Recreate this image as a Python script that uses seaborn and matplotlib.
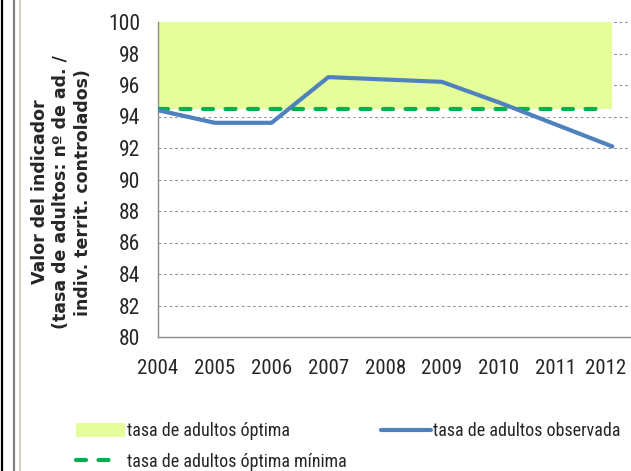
#!/usr/bin/env python3
"""Tasa de adultos observada vs optima"""

import pandas as pd
import matplotlib
matplotlib.use("Agg")
import matplotlib.pyplot as plt
import matplotlib.transforms as mtransforms
from matplotlib import font_manager
from matplotlib.lines import Line2D
from matplotlib.patches import Patch
import seaborn as sns

# Data
years = [2004, 2005, 2006, 2007, 2008, 2009, 2010, 2011, 2012]
observed = [94.4, 93.6, 93.6, 96.5, 96.35, 96.2, 94.9, 93.5, 92.1]
optimal_min = 94.5
optimal_max = 100
y_ticks = [80, 82, 84, 86, 88, 90, 92, 94, 96, 98, 100]

label_fill = "tasa de adultos óptima"
label_obs = "tasa de adultos observada"
label_min = "tasa de adultos óptima mínima"
ylabel = "Valor del indicador\n(tasa de adultos: nº de ad. /\nindiv. territ. controlados)"

# pick a narrow font if one is there
installed = {f.name for f in font_manager.fontManager.ttflist}
narrow = "Roboto"
for cand in ["Liberation Sans Narrow", "Roboto Condensed", "Open Sans Condensed"]:
    if cand in installed:
        narrow = cand
        break

sns.set_style("white")
plt.rcParams["font.family"] = [narrow, "DejaVu Sans"]

df = pd.DataFrame({"year": years, "value": observed})

fig = plt.figure(figsize=(6.31, 4.71), dpi=100)
ax = fig.add_axes([158 / 631, 1 - 337 / 471, 1 - 158 / 631, (337 - 22) / 471])

ax.fill_between(years, optimal_min, optimal_max, color="#E6FE9A", lw=0, zorder=1)
ax.plot([years[0], years[-1] - 0.15], [optimal_min, optimal_min], color="#00B050",
        lw=3, ls=(0, (2.4, 3.0)), dash_capstyle="round", zorder=3)
sns.lineplot(data=df, x="year", y="value", ax=ax, color="#4F81BD", lw=3, zorder=4)

ax.set_xlim(2004, 2012.33)
ax.set_ylim(80, 100)
ax.set_yticks(y_ticks)
ax.set_xticks(years)
ax.yaxis.grid(True, color="#999999", ls=(0, (2.5, 2.5)), lw=0.8)
ax.set_axisbelow(True)
for gl in ax.get_ygridlines():
    gl.set_clip_on(False)
    gl.set_zorder(0.5)

for s in ["top", "right"]:
    ax.spines[s].set_visible(False)
for s in ["left", "bottom"]:
    ax.spines[s].set_color("#8c8c8c")
    ax.spines[s].set_linewidth(1)

ax.tick_params(axis="x", direction="inout", length=15, width=1, color="#8c8c8c",
               labelsize=15, pad=8)
ax.tick_params(axis="y", length=0, labelsize=15.5, pad=13)
ax.set_xlabel("")
ax.set_ylabel(ylabel, fontsize=12.5, fontweight="bold", family="DejaVu Sans",
              linespacing=1.25)
ax.yaxis.set_label_coords(-0.14, 0.46)

# last year label sits a little left so it stays inside the picture
last = ax.get_xticklabels()[-1]
last.set_transform(last.get_transform() +
                   mtransforms.ScaledTranslation(-7 / 100, 0, fig.dpi_scale_trans))

# legend, split into the two columns of the reference
h_fill = Patch(facecolor="#E6FE9A", edgecolor="none")
h_min = Line2D([], [], color="#00B050", lw=3, ls=(0, (2.4, 3.0, 2.4, 12)),
               dash_capstyle="round")
h_obs = Line2D([], [], color="#4F81BD", lw=3)
fig.legend([h_fill, h_min], [label_fill, label_min], loc="upper left",
           bbox_to_anchor=(76 / 631, 1 - 422 / 471), frameon=False,
           fontsize=13, handlelength=2.7, handleheight=0.85,
           handletextpad=0.12, labelspacing=0.72, borderpad=0,
           borderaxespad=0)
fig.legend([h_obs], [label_obs], loc="upper left",
           bbox_to_anchor=(381 / 631, 1 - 422 / 471), frameon=False,
           fontsize=13, handlelength=2.75, handletextpad=0.12, borderpad=0,
           borderaxespad=0)

# window border lines on the left
for x, c in [(1.5, "#000000"), (13.5, "#808080"), (19.5, "#D4D0C8")]:
    fig.add_artist(Line2D([x / 631, x / 631], [0, 1], transform=fig.transFigure,
                          color=c, lw=1.6))

fig.savefig("out.png", dpi=100)
